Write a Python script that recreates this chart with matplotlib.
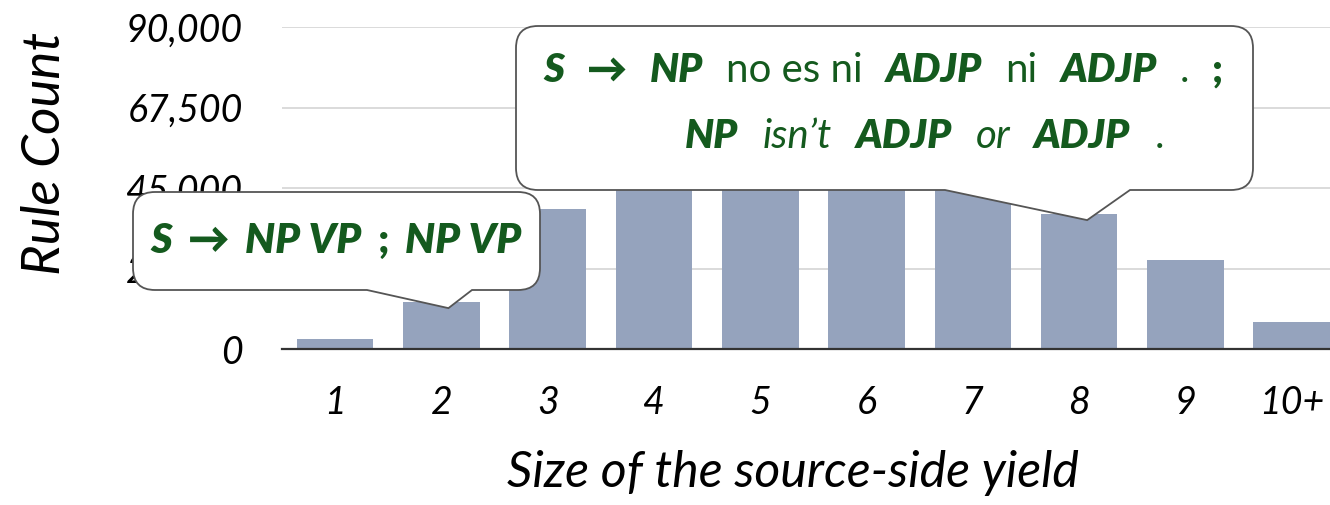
import numpy as np
import matplotlib
matplotlib.use("Agg")
import matplotlib.pyplot as plt
from matplotlib.path import Path
from matplotlib.patches import PathPatch

# data (bars 4-7 are hidden behind the callout -> estimated)
sizes = ["1", "2", "3", "4", "5", "6", "7", "8", "9", "10+"]
counts = [2800, 13100, 39100, 55000, 62000, 58000, 50000, 37700, 24900, 7500]
yticks = [0, 22500, 45000, 67500, 90000]
ytick_labels = ["0", "22,500", "45,000", "67,500", "90,000"]

BAR = "#95a3bd"
GRID = "#d4d4d4"
GREEN = "#145a1e"
W, H = 1330, 505

plt.rcParams["font.family"] = ["Lato", "DejaVu Sans"]

fig = plt.figure(figsize=(W / 100, H / 100), dpi=100)
ax = fig.add_axes([282 / W, 1 - 349 / H, 1 - 282 / W, (349 - 27) / H])
x = np.arange(len(sizes))
ax.bar(x, counts, width=0.72, color=BAR, zorder=2)
ax.set_xlim(-0.5, 9.36)
ax.set_ylim(0, 90000)
ax.set_yticks(yticks, ytick_labels)
ax.set_xticks(x, sizes)
ax.yaxis.grid(True, color=GRID, lw=1.2)
ax.set_axisbelow(True)
for s in ("top", "right", "left"):
    ax.spines[s].set_visible(False)
ax.spines["bottom"].set_color("#333333")
ax.spines["bottom"].set_linewidth(1.6)
ax.tick_params(axis="y", length=0, labelsize=27, pad=28)
ax.tick_params(axis="x", length=0, labelsize=27, pad=26)
for lbl in ax.get_xticklabels() + ax.get_yticklabels():
    lbl.set_fontstyle("italic")

fig.text(45 / W, 1 - 153 / H, "Rule Count", rotation=90, ha="center",
         va="center", fontsize=38, fontstyle="italic")
fig.text(793 / W, 1 - 473 / H, "Size of the source-side yield", ha="center",
         va="center", fontsize=36, fontstyle="italic")


def to_disp(px, py):
    return px, H - py


def bubble(L, T, R, B, b1, b2, tip, r=22):
    """Rounded speech bubble in image px (y down), tail tip in display px."""
    tx, ty = tip
    pts = [
        (Path.MOVETO, to_disp(L + r, T)),
        (Path.LINETO, to_disp(R - r, T)),
        (Path.CURVE3, to_disp(R, T)), (Path.CURVE3, to_disp(R, T + r)),
        (Path.LINETO, to_disp(R, B - r)),
        (Path.CURVE3, to_disp(R, B)), (Path.CURVE3, to_disp(R - r, B)),
        (Path.LINETO, to_disp(b2, B)),
        (Path.LINETO, (tx, ty)),
        (Path.LINETO, to_disp(b1, B)),
        (Path.LINETO, to_disp(L + r, B)),
        (Path.CURVE3, to_disp(L, B)), (Path.CURVE3, to_disp(L, B - r)),
        (Path.LINETO, to_disp(L, T + r)),
        (Path.CURVE3, to_disp(L, T)), (Path.CURVE3, to_disp(L + r, T)),
        (Path.CLOSEPOLY, to_disp(L + r, T)),
    ]
    codes, verts = zip(*pts)
    p = PathPatch(Path(verts, codes), facecolor="white", edgecolor="#555555",
                  lw=1.3, transform=None, zorder=5)
    fig.add_artist(p)


STY = {"bi": dict(fontweight="heavy", fontstyle="italic"),
       "b": dict(fontweight="heavy", fontstyle="normal"),
       "r": dict(fontweight="normal", fontstyle="normal"),
       "i": dict(fontweight="normal", fontstyle="italic")}


def runs(x0, y0, parts, size, gap):
    rend = fig.canvas.get_renderer()
    xx = x0
    for txt, sty in parts:
        t = fig.text(xx / W, 1 - y0 / H, txt, fontsize=size, color=GREEN,
                     ha="left", va="baseline", zorder=6, **STY[sty])
        xx += t.get_window_extent(rend).width + gap


def tip_of(i, dx, dy):
    px, py = ax.transData.transform((x[i], counts[i]))
    return px + dx, py + dy


fig.canvas.draw()

bubble(133, 192, 540, 290, 367, 472, tip_of(1, 7, -6))
runs(150, 253, [("S", "bi"), ("→", "b"), ("NP VP", "bi"), (";", "b"),
                ("NP VP", "bi")], 30, 16)

bubble(516, 26, 1253, 190, 945, 1130, tip_of(7, 8, -6))
runs(543, 82, [("S", "bi"), ("→", "b"), ("NP", "bi"), ("no es ni", "r"),
               ("ADJP", "bi"), ("ni", "r"), ("ADJP", "bi"), (".", "r"),
               (";", "b")], 29, 23)
runs(685, 148, [("NP", "bi"), ("isn’t", "i"), ("ADJP", "bi"), ("or", "i"),
                ("ADJP", "bi"), (".", "r")], 29, 24)

fig.savefig("out.png", dpi=100)
